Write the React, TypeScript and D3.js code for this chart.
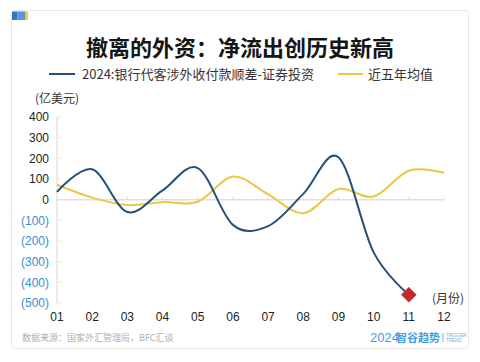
import React from 'react';
import * as d3 from 'd3';

// 月份
const months = ['01', '02', '03', '04', '05', '06', '07', '08', '09', '10', '11', '12'];
// 2024:银行代客涉外收付款顺差-证券投资 (亿美元), 1-11月
const flow2024 = [38, 147, -60, 45, 153, -122, -128, 28, 205, -255, -460];
// 近五年均值
const avg5y = [72, 10, -26, -12, -10, 112, 26, -66, 52, 15, 140, 130];
const yTicks = [400, 300, 200, 100, 0, -100, -200, -300, -400, -500];

const W = 480;
const H = 362;
const BLUE = '#24507a';
const YELLOW = '#ebc745';
const CJK = '"Noto Sans CJK SC", "Noto Sans", sans-serif';
const NUM = '"Liberation Sans", Arial, "Noto Sans CJK SC", sans-serif';

const fmt = (v: number) => (v < 0 ? `(${-v})` : `${v}`);

const App = () => {
  const x = d3.scaleLinear().domain([0, 11]).range([57, 444]);
  const y = d3.scaleLinear().domain([-500, 400]).range([303, 117]);

  const line = d3
    .line<number>()
    .x((d, i) => x(i))
    .y((d) => y(d))
    .curve(d3.curveCardinal.tension(0));

  const last = flow2024.length - 1;
  const mx = x(last);
  const my = y(flow2024[last]);

  return (
    <svg width={W} height={H} style={{ position: 'absolute', left: 0, top: 0 }}>
      <rect x={0} y={0} width={W} height={H} fill="#fff" />
      {/* card */}
      <rect x={11.5} y={10.5} width={457} height={338} rx={3} fill="#fff" stroke="#e8e8e8" />
      <rect x={12} y={11.5} width={5.5} height={8.5} fill="#2f78c2" />
      <rect x={17.5} y={11.5} width={8} height={8.5} fill="#5598d6" />
      <rect x={25.5} y={11.5} width={2.2} height={8.5} fill="#f2c31d" />

      {/* title */}
      <text x={240} y={56} textAnchor="middle" fontFamily={CJK} fontWeight="bold" fontSize={22} fill="#151515">
        撤离的外资：净流出创历史新高
      </text>

      {/* legend */}
      <line x1={49} x2={75} y1={74} y2={74} stroke={BLUE} strokeWidth={2} />
      <text x={82} y={78.5} fontFamily={CJK} fontSize={13} fill="#333">
        2024:银行代客涉外收付款顺差-证券投资
      </text>
      <line x1={338} x2={363} y1={74} y2={74} stroke={YELLOW} strokeWidth={2} />
      <text x={368} y={78.5} fontFamily={CJK} fontSize={13} fill="#333">
        近五年均值
      </text>

      {/* units */}
      <text x={35} y={103} fontFamily={CJK} fontSize={12} fill="#333">
        (亿美元)
      </text>
      <text x={432} y={303} fontFamily={CJK} fontSize={12} fill="#333">
        (月份)
      </text>

      {/* y axis */}
      <line x1={x(0)} x2={x(0)} y1={y(400)} y2={y(-500)} stroke="#e4e4e4" strokeWidth={1.5} />
      {yTicks.map((t) => (
        <g key={t}>
          <line x1={x(0)} x2={x(0) + 4} y1={y(t)} y2={y(t)} stroke="#e4e4e4" strokeWidth={1} />
          <text
            x={49}
            y={y(t) + 4.3}
            textAnchor="end"
            fontFamily={NUM}
            fontSize={12}
            fill={t < 0 ? '#3b8ed2' : '#222'}
          >
            {fmt(t)}
          </text>
        </g>
      ))}

      {/* zero line with month ticks */}
      <line x1={x(0)} x2={x(11)} y1={y(0)} y2={y(0)} stroke="#dedede" strokeWidth={1.5} />
      {months.map((m, i) => (
        <g key={m}>
          <line x1={x(i)} x2={x(i)} y1={y(0) - 3} y2={y(0)} stroke="#dedede" strokeWidth={1} />
          <text x={x(i)} y={321} textAnchor="middle" fontFamily={NUM} fontSize={12} fill="#222">
            {m}
          </text>
        </g>
      ))}

      {/* series */}
      <path d={line(avg5y) || ''} fill="none" stroke={YELLOW} strokeWidth={2} />
      <path d={line(flow2024) || ''} fill="none" stroke={BLUE} strokeWidth={2} />
      <rect
        x={mx - 5.5}
        y={my - 5.5}
        width={11}
        height={11}
        fill="#c9262b"
        transform={`rotate(45 ${mx} ${my})`}
      />

      {/* footer */}
      <text x={22} y={341} fontFamily={CJK} fontSize={9} fill="#b0b0b0">
        数据来源：国家外汇管理局，BFC汇谈
      </text>
      <text x={370} y={342} fontFamily={NUM} fontSize={13} fill="#3f9ee2">
        2024
      </text>
      <text x={396} y={341.5} fontFamily={CJK} fontWeight="bold" fontSize={11} fill="#3f9ee2">
        智谷趋势
      </text>
      <line x1={443} x2={443} y1={333} y2={342} stroke="#3f9ee2" strokeWidth={0.8} />
      <text x={446} y={337} fontFamily={NUM} fontSize={4.5} fill="#6aaee0">
        TRIGGER
      </text>
      <text x={446} y={342} fontFamily={NUM} fontSize={4.5} fill="#6aaee0">
        TREND
      </text>
    </svg>
  );
};

export default App;
